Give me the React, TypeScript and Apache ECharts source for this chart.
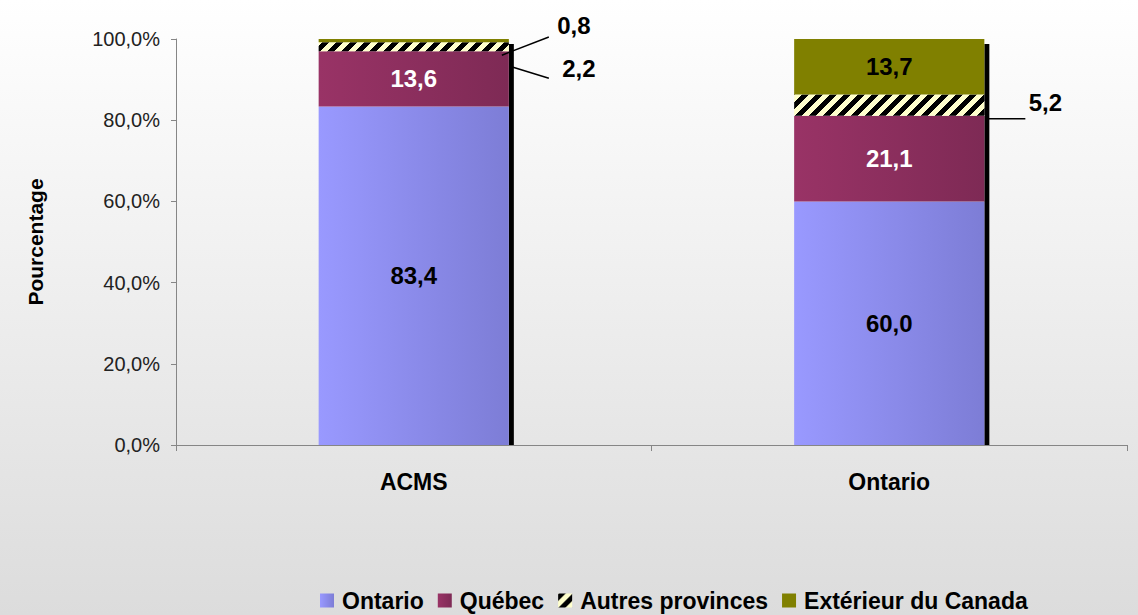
import React, { useEffect, useRef } from 'react';
import * as echarts from 'echarts';

const categories = ['ACMS', 'Ontario'];
const seriesNames = ['Ontario', 'Québec', 'Autres provinces', 'Extérieur du Canada'];
const ontarioValues = [83.4, 60.0];
const quebecValues = [13.6, 21.1];
const autresValues = [2.2, 5.2];
const exterieurValues = [0.8, 13.7];

const FONT = '"Liberation Sans", Arial, sans-serif';
const fmt = (v: number) => v.toFixed(1).replace('.', ',');

const grad = (a: string, b: string) => ({
  type: 'linear', x: 0, y: 0, x2: 1, y2: 0,
  colorStops: [{ offset: 0, color: a }, { offset: 1, color: b }],
});

function hatchCanvas(size: number) {
  const c = document.createElement('canvas');
  c.width = size;
  c.height = size;
  const ctx = c.getContext('2d')!;
  const img = ctx.createImageData(size, size);
  for (let y = 0; y < size; y++) {
    for (let x = 0; x < size; x++) {
      const k = (y * size + x) * 4;
      const dark = (x + y) % size < size / 2;
      img.data[k] = dark ? 0 : 255;
      img.data[k + 1] = dark ? 0 : 255;
      img.data[k + 2] = dark ? 0 : 204;
      img.data[k + 3] = 255;
    }
  }
  ctx.putImageData(img, 0, 0);
  return c;
}

export default function App() {
  const ref = useRef<HTMLDivElement>(null);
  useEffect(() => {
    const chart = echarts.init(ref.current!, undefined, { renderer: 'svg' });
    const labelBase = { show: true, position: 'inside', fontSize: 24, fontWeight: 'bold', fontFamily: FONT };
    const hatch = hatchCanvas(14);
    const option: any = {
      animation: false,
      backgroundColor: 'transparent',
      textStyle: { fontFamily: FONT },
      grid: { left: 176, right: 11, top: 39, bottom: 170 },
      legend: {
        left: 315, top: 584, itemWidth: 14, itemHeight: 14, itemGap: 14,
        icon: 'rect',
        textStyle: { fontSize: 23, fontWeight: 'bold', color: '#000', fontFamily: FONT, padding: [0, 0, 0, 3] },
        data: seriesNames,
      },
      xAxis: {
        type: 'category', data: categories,
        axisLine: { lineStyle: { color: '#868686', width: 1 } },
        axisTick: { show: true, length: 6, lineStyle: { color: '#868686' } },
        axisLabel: { margin: 25, fontSize: 23, fontWeight: 'bold', color: '#000' },
      },
      yAxis: {
        type: 'value', min: 0, max: 100, interval: 20,
        name: 'Pourcentage', nameLocation: 'middle', nameGap: 130,
        nameTextStyle: { fontSize: 21, fontWeight: 'bold', color: '#000' },
        axisLine: { show: true, lineStyle: { color: '#868686', width: 1 } },
        axisTick: { show: true, length: 5, lineStyle: { color: '#868686' } },
        splitLine: { show: false },
        axisLabel: { margin: 16, fontSize: 20, color: '#222', formatter: (v: number) => fmt(v) + '%' },
      },
      series: [
        {
          name: seriesNames[0], type: 'bar', stack: 's', barWidth: '40%', data: ontarioValues,
          itemStyle: { color: grad('#9999ff', '#7d7dd6') },
          label: { ...labelBase, color: '#000', formatter: (p: any) => fmt(p.value) },
        },
        {
          name: seriesNames[1], type: 'bar', stack: 's', data: quebecValues,
          itemStyle: { color: grad('#993366', '#7e2a55') },
          label: { ...labelBase, color: '#fff', formatter: (p: any) => fmt(p.value) },
        },
        {
          name: seriesNames[2], type: 'bar', stack: 's', data: autresValues,
          itemStyle: { color: { image: hatch, repeat: 'repeat' } },
          label: { show: false },
        },
        {
          name: seriesNames[3], type: 'bar', stack: 's', data: exterieurValues,
          itemStyle: { color: '#808000' },
          label: { ...labelBase, color: '#000', formatter: (p: any) => (p.value > 5 ? fmt(p.value) : '') },
        },
      ],
    };
    chart.setOption(option);

    const px = (i: number, v: number) => chart.convertToPixel({ xAxisIndex: 0, yAxisIndex: 0 }, [i, v]) as number[];
    const catW = px(1, 0)[0] - px(0, 0)[0];
    const bw = catW * 0.4;
    const els: any[] = [];
    categories.forEach((_, i) => {
      const [cx, y0] = px(i, 0);
      const top = ontarioValues[i] + quebecValues[i] + autresValues[i] + exterieurValues[i];
      const yTop = px(i, top)[1];
      const right = cx + bw / 2;
      els.push({ type: 'rect', z: 1, shape: { x: right, y: yTop + 5, width: 5, height: y0 - yTop - 5 }, style: { fill: '#000' } });
    });
    const txt = (text: string, x: number, y: number) => ({
      type: 'text', z: 100, x, y,
      style: { text, fill: '#000', fontSize: 24, fontWeight: 'bold', fontFamily: FONT, align: 'center', verticalAlign: 'middle' },
    });
    const ln = (x1: number, y1: number, x2: number, y2: number) => ({
      type: 'line', z: 100, shape: { x1, y1, x2, y2 }, style: { stroke: '#000', lineWidth: 1.5 },
    });
    {
      const i = 0;
      const right = px(i, 0)[0] + bw / 2;
      const yTop = px(i, 100)[1];
      const yOQ = px(i, ontarioValues[i] + quebecValues[i])[1];
      els.push(ln(right + 40, yTop - 2, right - 7, yOQ + 4));
      els.push(txt(fmt(exterieurValues[i]), right + 65, yTop - 14));
      els.push(ln(right + 1, yOQ + 15, right + 40, yOQ + 27));
      els.push(txt(fmt(autresValues[i]), right + 70, yOQ + 17));
    }
    {
      const i = 1;
      const right = px(i, 0)[0] + bw / 2;
      const yOQ = px(i, ontarioValues[i] + quebecValues[i])[1];
      els.push(ln(right + 4, yOQ + 3, right + 41, yOQ + 3));
      els.push(txt(fmt(autresValues[i]), right + 61, yOQ - 13));
    }
    chart.setOption({ graphic: { elements: els } });
    return () => chart.dispose();
  }, []);
  return (
    <div
      ref={ref}
      style={{
        position: 'fixed', left: 0, top: 0, width: 1138, height: 615,
        background: 'linear-gradient(to bottom, #ffffff 0%, #dcdcdc 100%)',
      }}
    />
  );
}
